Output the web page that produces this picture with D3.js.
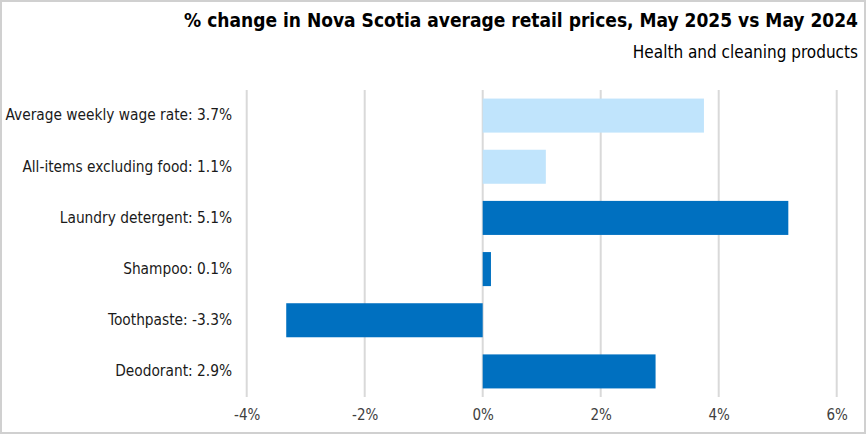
<!DOCTYPE html>
<html>
<head>
<meta charset="utf-8">
<script src="https://cdn.jsdelivr.net/npm/d3@7"></script>
<style>
  body { margin: 0; background: #fff; }
  text { font-family: "DejaVu Sans Condensed", "Liberation Sans Narrow", sans-serif; }
</style>
</head>
<body>
<div class="canvas"></div>
<script>
// data
const categories = [
  'Average weekly wage rate: 3.7%',
  'All-items excluding food: 1.1%',
  'Laundry detergent: 5.1%',
  'Shampoo: 0.1%',
  'Toothpaste: -3.3%',
  'Deodorant: 2.9%',
];
const values = [3.75, 1.07, 5.18, 0.14, -3.33, 2.93];
const isBenchmark = [true, true, false, false, false, false];
const tickValues = [-4, -2, 0, 2, 4, 6];

const width = 866;
const height = 434;

const svg = d3.select('.canvas')
  .append('svg')
  .attr('width', width)
  .attr('height', height);

// outer frame
svg.append('rect')
  .attr('x', 1)
  .attr('y', 1)
  .attr('width', width - 2)
  .attr('height', height - 2)
  .attr('fill', '#fff')
  .attr('stroke', '#d0d0d0')
  .attr('stroke-width', 2);

// titles
svg.append('text')
  .attr('x', 858)
  .attr('y', 27)
  .attr('text-anchor', 'end')
  .attr('font-size', 19)
  .attr('font-weight', 'bold')
  .attr('fill', '#000')
  .text('% change in Nova Scotia average retail prices, May 2025 vs May 2024');

svg.append('text')
  .attr('x', 858)
  .attr('y', 58)
  .attr('text-anchor', 'end')
  .attr('font-size', 17)
  .attr('fill', '#000')
  .text('Health and cleaning products');

/*--------------------------------
  SCALES
--------------------------------*/
const x = d3.scaleLinear()
  .domain([-4, 6])
  .range([246.7, 836.7]);

const y = d3.scaleBand()
  .domain(categories)
  .range([90, 397])
  .paddingInner(0.335)
  .paddingOuter(0.1675);

// gridlines
svg.append('g')
  .selectAll('line')
  .data(tickValues)
  .enter()
  .append('line')
  .attr('x1', d => x(d))
  .attr('x2', d => x(d))
  .attr('y1', 90)
  .attr('y2', 397)
  .attr('stroke', '#d9d9d9')
  .attr('stroke-width', 2);

// bars
svg.append('g')
  .selectAll('rect')
  .data(values)
  .enter()
  .append('rect')
  .attr('x', d => x(Math.min(0, d)))
  .attr('width', d => Math.abs(x(d) - x(0)))
  .attr('y', (d, i) => y(categories[i]))
  .attr('height', y.bandwidth())
  .attr('fill', (d, i) => (isBenchmark[i] ? '#c0e4fc' : '#0070c0'));

// x axis
const xAxis = d3.axisBottom(x)
  .tickValues(tickValues)
  .tickSize(0)
  .tickPadding(0)
  .tickFormat(d => `${d}%`);

const xAxisGroup = svg.append('g')
  .attr('transform', 'translate(0, 420)')
  .call(xAxis);
xAxisGroup.select('.domain').remove();
xAxisGroup.selectAll('text')
  .attr('dy', 0)
  .attr('font-size', 15)
  .attr('fill', '#404040');

// y axis (category labels)
const yAxis = d3.axisLeft(y).tickSize(0).tickPadding(0);
const yAxisGroup = svg.append('g')
  .attr('transform', 'translate(232, 0)')
  .call(yAxis);
yAxisGroup.select('.domain').remove();
yAxisGroup.selectAll('text')
  .attr('font-size', 15.3)
  .attr('fill', '#1a1a1a');
</script>
</body>
</html>
